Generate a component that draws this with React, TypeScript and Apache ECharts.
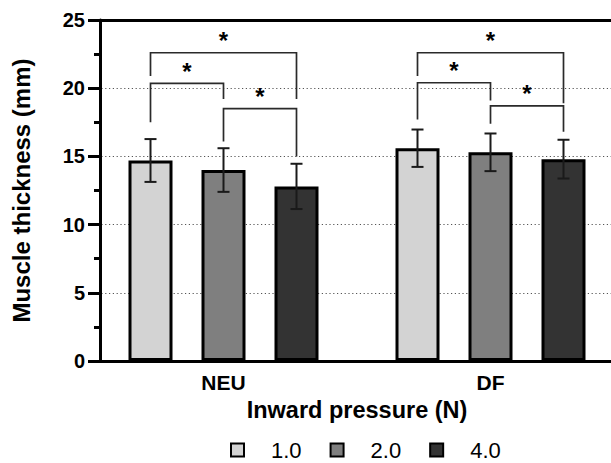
import React, { useEffect, useRef } from "react";
import * as echarts from "echarts";

const categories = ["NEU", "DF"];
const seriesNames = ["1.0", "2.0", "4.0"];
const barColors = ["#d3d3d3", "#7f7f7f", "#333333"];
const means = [
  [14.7, 15.6],
  [14.0, 15.3],
  [12.8, 14.8],
];
const sds = [
  [1.57, 1.37],
  [1.6, 1.38],
  [1.66, 1.42],
];
// [categoryIndex, fromBar, toBar, bracketTop, leftLegEnd, rightLegEnd]
const brackets = [
  [0, 0, 2, 22.6, 20.9, 19.2],
  [0, 0, 1, 20.35, 17.5, 19.2],
  [0, 1, 2, 18.5, 16.1, 15.0],
  [1, 0, 2, 22.6, 20.9, 18.9],
  [1, 0, 1, 20.4, 17.7, 19.1],
  [1, 1, 2, 18.7, 17.4, 16.8],
];
const bracketMarks = ["*", "*", "*", "*", "*", "*"];

const FONT = "Liberation Sans, Arial, sans-serif";
const BAR_W = 44;
const BAR_GAP = 29;
const STEP = BAR_W + BAR_GAP;
const CAP = 6;

export default function App() {
  const ref = useRef<HTMLDivElement>(null);
  useEffect(() => {
    if (!ref.current) return;
    const chart = echarts.init(ref.current, null, { renderer: "svg" });

    const barSeries = seriesNames.map((name, i) => ({
      name,
      type: "bar",
      data: means[i],
      barWidth: BAR_W,
      barGap: (BAR_GAP / BAR_W) * 100 + "%",
      itemStyle: { color: barColors[i], borderColor: "#000", borderWidth: 3 },
      silent: true,
      z: 2,
    }));

    const errSeries = seriesNames.map((name, i) => ({
      name: name + " SD",
      type: "custom",
      data: means[i].map((m, c) => [c, +(m - sds[i][c]).toFixed(2), +(m + sds[i][c]).toFixed(2)]),
      encode: { x: 0, y: [1, 2] },
      silent: true,
      z: 5,
      renderItem: (params: any, api: any) => {
        const lo = api.coord([api.value(0), api.value(1)]);
        const hi = api.coord([api.value(0), api.value(2)]);
        const x = lo[0] + (i - 1) * STEP;
        const st = { stroke: "#1a1a1a", lineWidth: 2 };
        return {
          type: "group",
          children: [
            { type: "line", shape: { x1: x, y1: lo[1], x2: x, y2: hi[1] }, style: st },
            { type: "line", shape: { x1: x - CAP, y1: hi[1], x2: x + CAP, y2: hi[1] }, style: st },
            { type: "line", shape: { x1: x - CAP, y1: lo[1], x2: x + CAP, y2: lo[1] }, style: st },
          ],
        };
      },
    }));

    const bracketSeries = {
      name: "significance",
      type: "custom",
      data: brackets,
      encode: { x: 0, y: [3, 4, 5] },
      silent: true,
      z: 6,
      renderItem: (params: any, api: any) => {
        const cat = api.value(0);
        const from = api.value(1);
        const to = api.value(2);
        const base = api.coord([cat, api.value(3)]);
        const xL = base[0] + (from - 1) * STEP;
        const xR = base[0] + (to - 1) * STEP;
        const yTop = base[1];
        const yL = api.coord([cat, api.value(4)])[1];
        const yR = api.coord([cat, api.value(5)])[1];
        return {
          type: "group",
          children: [
            {
              type: "polyline",
              shape: { points: [[xL, yL], [xL, yTop], [xR, yTop], [xR, yR]] },
              style: { stroke: "#2a2a2a", lineWidth: 1.7, fill: "none" },
            },
            {
              type: "text",
              x: (xL + xR) / 2,
              y: yTop - 12,
              style: {
                text: bracketMarks[params.dataIndex],
                fontSize: 24,
                fontWeight: "bold",
                fontFamily: FONT,
                fill: "#000",
                align: "center",
                verticalAlign: "middle",
              },
            },
          ],
        };
      },
    };

    chart.setOption({
      animation: false,
      backgroundColor: "#fff",
      textStyle: { fontFamily: FONT },
      grid: { left: 90, right: -13, top: 20, bottom: 102, containLabel: false, outerBoundsMode: "none" },
      legend: {
        data: seriesNames,
        left: 230,
        top: 439,
        padding: 0,
        icon: "rect",
        itemWidth: 13,
        itemHeight: 13,
        itemGap: 28,
        selectedMode: false,
        itemStyle: { borderColor: "#000", borderWidth: 2 },
        textStyle: { fontSize: 22, color: "#000", fontFamily: FONT, padding: [0, 0, 0, 22] },
      },
      xAxis: [
        {
          type: "category",
          data: categories,
          axisLine: { show: true, lineStyle: { color: "#000", width: 3 } },
          axisTick: { show: false },
          axisLabel: { color: "#000", fontSize: 21, fontWeight: "bold", margin: 11, fontFamily: FONT },
          name: "Inward pressure (N)",
          nameLocation: "middle",
          nameGap: 37,
          nameTextStyle: { color: "#000", fontSize: 23.5, fontWeight: "bold", fontFamily: FONT },
        },
        {
          type: "category",
          data: categories,
          position: "top",
          axisLine: { show: true, onZero: false, lineStyle: { color: "#000", width: 3 } },
          axisTick: { show: false },
          axisLabel: { show: false },
          splitLine: { show: false },
        },
      ],
      yAxis: {
        type: "value",
        min: 0,
        max: 25,
        interval: 5,
        offset: -10,
        axisLine: { show: true, lineStyle: { color: "#000", width: 3 } },
        axisTick: { show: true, length: 12, lineStyle: { color: "#000", width: 3 } },
        minorTick: { show: true, splitNumber: 2, length: 6, lineStyle: { color: "#000", width: 3 } },
        axisLabel: { color: "#000", fontSize: 20, fontWeight: "bold", margin: 15, fontFamily: FONT },
        splitLine: { show: true, lineStyle: { color: "#555", width: 1.2, type: [1.2, 2.6] } },
        name: "Muscle thickness (mm)",
        nameLocation: "middle",
        nameGap: 67,
        nameTextStyle: { color: "#000", fontSize: 24, fontWeight: "bold", fontFamily: FONT },
      },
      series: [...barSeries, ...errSeries, bracketSeries],
    });
    return () => chart.dispose();
  }, []);
  return <div ref={ref} style={{ position: "fixed", left: 0, top: 0, width: 611, height: 463 }} />;
}
